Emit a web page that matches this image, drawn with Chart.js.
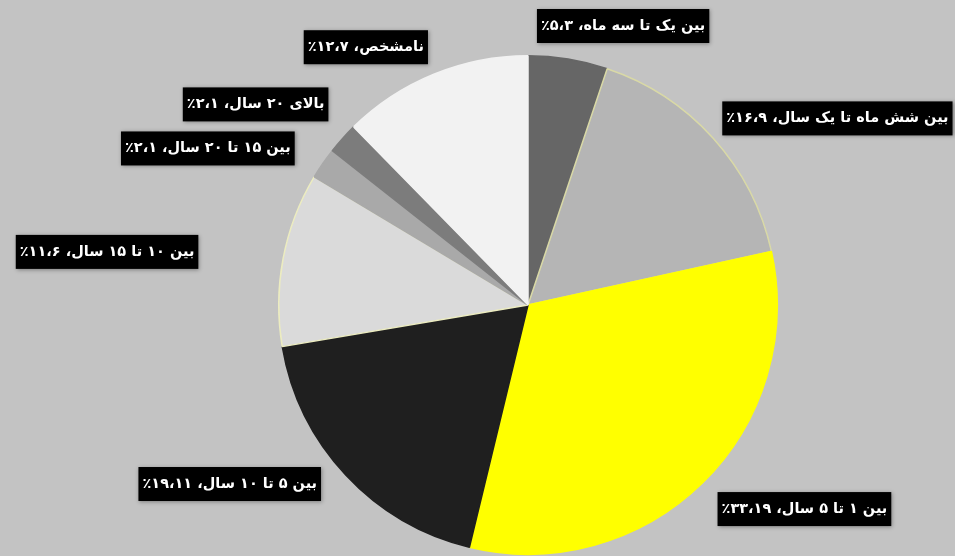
<!DOCTYPE html>
<html lang="fa">
<head>
<meta charset="utf-8">
<script src="https://cdn.jsdelivr.net/npm/chart.js@4/dist/chart.umd.min.js"></script>
<style>
    html, body { margin: 0; padding: 0; background: #c3c3c3; }
    #wrap { width: 955px; height: 556px; }
</style>
</head>
<body>
<div id="wrap"><canvas id="ageChart" width="955" height="556"></canvas></div>
<script>
// سابقه / بازه‌های زمانی و سهم هر کدام (درصد)
const categories = ['بین یک تا سه ماه', 'بین شش ماه تا یک سال', 'بین ۱ تا ۵ سال', 'بین ۵ تا ۱۰ سال',
                    'بین ۱۰ تا ۱۵ سال', 'بین ۱۵ تا ۲۰ سال', 'بالای ۲۰ سال', 'نامشخص'];
const shares = [5.3, 16.9, 33.19, 19.11, 11.6, 2.1, 2.1, 12.7];

const sliceColors = ['#666666', '#b5b5b5', '#ffff00', '#1f1f1f', '#dadada', '#a9a9a9', '#7c7c7c', '#f2f2f2'];
const sliceBorders = ['#666666', '#d9d9a6', '#ffff00', '#1f1f1f', '#ececc0', '#a9a9a9', '#7c7c7c', '#f2f2f2'];

// جابجایی مرکز برچسب نسبت به نقطه‌ی وسط کمان
const labelNudge = [[55, -33], [124, -20], [102, 26], [-116, 9], [-176, -7], [-115, -15], [-87, -34], [-68, -27]];

const faDigits = s => String(s).replace(/[0-9]/g, d => '۰۱۲۳۴۵۶۷۸۹'[d]);

function numberPart(v) {
    const parts = String(v).split('.');
    return '٪' + faDigits(parts[0]) + '،' + faDigits(parts[1] || '0');
}

const calloutLabels = {
    id: 'calloutLabels',
    afterDatasetsDraw(chart) {
        const ctx = chart.ctx;
        const meta = chart.getDatasetMeta(0);
        ctx.save();
        ctx.font = 'bold 14.5px "DejaVu Sans"';
        ctx.textBaseline = 'middle';
        meta.data.forEach((arc, i) => {
            const p = arc.getProps(['x', 'y', 'startAngle', 'endAngle', 'outerRadius'], true);
            const mid = (p.startAngle + p.endAngle) / 2;
            const ax = p.x + Math.cos(mid) * p.outerRadius;
            const ay = p.y + Math.sin(mid) * p.outerRadius;
            const cx = ax + labelNudge[i][0];
            const cy = ay + labelNudge[i][1];

            const phrase = categories[i] + '،';
            const num = numberPart(shares[i]);
            ctx.direction = 'rtl';
            const wPhrase = ctx.measureText(phrase).width;
            ctx.direction = 'ltr';
            const wNum = ctx.measureText(num).width;
            const gap = 5;
            const total = wNum + gap + wPhrase;
            const bw = total + 8, bh = 34;

            ctx.shadowColor = 'rgba(0,0,0,0.35)';
            ctx.shadowBlur = 4;
            ctx.shadowOffsetX = 1;
            ctx.shadowOffsetY = 1;
            ctx.fillStyle = '#000';
            ctx.fillRect(cx - bw / 2, cy - bh / 2, bw, bh);
            ctx.shadowColor = 'transparent';

            ctx.fillStyle = '#fff';
            ctx.direction = 'ltr';
            ctx.textAlign = 'left';
            ctx.fillText(num, cx - total / 2, cy);
            ctx.direction = 'rtl';
            ctx.textAlign = 'right';
            ctx.fillText(phrase, cx + total / 2, cy);
        });
        ctx.restore();
    }
};

new Chart(document.getElementById('ageChart'), {
    type: 'pie',
    data: {
        labels: categories,
        datasets: [{
            data: shares,
            backgroundColor: sliceColors,
            borderColor: sliceBorders,
            borderWidth: 1.5,
            hoverOffset: 0
        }]
    },
    options: {
        responsive: false,
        animation: false,
        layout: { padding: { top: 55, bottom: 1, left: 101, right: 0 } },
        plugins: {
            legend: { display: false },
            tooltip: { enabled: false }
        }
    },
    plugins: [calloutLabels]
});
</script>
</body>
</html>
